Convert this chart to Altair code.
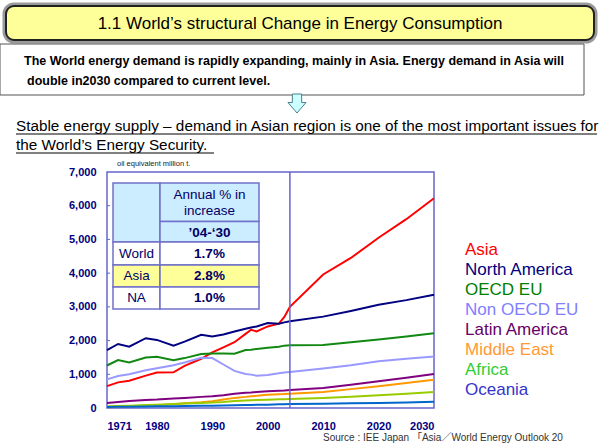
import altair as alt
import pandas as pd

# ---------------- data ----------------
years = [1971, 1973, 1975, 1978, 1980, 1983, 1985, 1988, 1990, 1992, 1994, 1996, 1997,
         1998, 2000, 2002, 2003, 2004, 2010, 2015, 2020, 2025, 2030]
asia = [650, 760, 810, 960, 1050, 1060, 1250, 1460, 1650, 1800, 1950, 2200, 2320,
        2270, 2420, 2500, 2700, 3000, 3960, 4450, 5050, 5600, 6220]
north_america = [1720, 1900, 1820, 2070, 2020, 1850, 1970, 2170, 2120, 2180, 2270, 2350, 2390,
                 2420, 2520, 2500, 2540, 2570, 2710, 2880, 3060, 3200, 3360]
oecd_eu = [1260, 1420, 1350, 1500, 1520, 1420, 1480, 1600, 1620, 1620, 1610, 1720, 1730,
           1750, 1790, 1820, 1850, 1860, 1870, 1950, 2030, 2120, 2220]
non_oecd_eu = [850, 950, 1000, 1120, 1180, 1270, 1350, 1490, 1480, 1290, 1100, 1010, 990,
               960, 980, 1030, 1050, 1070, 1170, 1270, 1390, 1460, 1530]
latin_america = [150, 180, 210, 240, 250, 280, 300, 330, 350, 380, 425, 450, 460,
                 475, 495, 510, 520, 535, 595, 690, 790, 900, 1010]
middle_east = [20, 40, 55, 70, 80, 110, 140, 170, 200, 250, 300, 330, 350,
               360, 395, 410, 415, 425, 475, 560, 645, 740, 840]
africa = [50, 60, 70, 90, 100, 115, 130, 150, 160, 180, 210, 225, 230,
          235, 247, 258, 262, 267, 297, 335, 376, 425, 475]
oceania = [30, 35, 40, 45, 50, 55, 60, 65, 70, 75, 82, 88, 90,
           95, 100, 108, 112, 118, 128, 138, 148, 165, 188]

regions = ["Asia", "North America", "OECD EU", "Non OECD EU",
           "Latin America", "Middle East", "Africa", "Oceania"]
line_colors = ["#FF0000", "#000080", "#118811", "#9999FF",
               "#800080", "#FF9900", "#99CC00", "#0066CC"]
legend_colors = ["#FF0000", "#000080", "#008000", "#8080FF",
                 "#660066", "#FF9933", "#33CC33", "#3333CC"]

x_ticks = [1971, 1980, 1990, 2000, 2010, 2020, 2030]
y_ticks = [0, 1000, 2000, 3000, 4000, 5000, 6000, 7000]
proj_start = 2004

table_rows = ["World", "Asia", "NA"]
table_vals = ["1.7%", "2.8%", "1.0%"]

title_text = "1.1 World\u2019s structural Change in Energy Consumption"
box_lines = ["The World energy demand is rapidly expanding, mainly in Asia. Energy demand in Asia will",
             "double in2030 compared to current level."]
stable_lines = ["Stable energy supply \u2013 demand in Asian region is one of the most important issues for",
                "the  World\u2019s Energy Security."]
unit_text = "oil equivalent million t."
source_text = "Source : IEE Japan \u300cAsia\uff0fWorld Energy Outlook 20"

FONT = "Liberation Sans, Arial, Noto Sans CJK JP"

series = {"Asia": asia, "North America": north_america, "OECD EU": oecd_eu,
          "Non OECD EU": non_oecd_eu, "Latin America": latin_america,
          "Middle East": middle_east, "Africa": africa, "Oceania": oceania}
rows = []
for r in regions:
    for y, v in zip(years, series[r]):
        rows.append({"year": y, "value": v, "region": r})
df = pd.DataFrame(rows)

# plot origin in page pixels
OX, OY = 107, 172
W, H = 327, 236

def px(x):
    return x - OX

def py(y):
    return y - OY

one = pd.DataFrame({"a": [0]})

xscale = alt.Scale(domain=[1971, 2030], nice=False, zero=False)
yscale = alt.Scale(domain=[0, 7000], nice=False)

lines = alt.Chart(df).mark_line(strokeWidth=2).encode(
    x=alt.X("year:Q", scale=xscale,
            axis=alt.Axis(values=x_ticks, format="d", title=None, grid=False, ticks=False,
                          domain=False, labelFontSize=11, labelFontWeight="bold",
                          labelColor="#000080", labelPadding=12, labelFont=FONT)),
    y=alt.Y("value:Q", scale=yscale,
            axis=alt.Axis(values=y_ticks, format=",d", title=None, grid=False, ticks=False,
                          domain=False, labelFontSize=11, labelFontWeight="bold",
                          labelColor="#000080", labelPadding=11, labelFont=FONT)),
    color=alt.Color("region:N", scale=alt.Scale(domain=regions, range=line_colors), legend=None),
    order=alt.Order("year:Q"),
)

tick_df = pd.DataFrame({"value": y_ticks[1:-1]})
yticks = alt.Chart(tick_df).mark_rule(color="#6666CC", strokeWidth=1).encode(
    y=alt.Y("value:Q", scale=yscale, axis=None), x=alt.value(0), x2=alt.value(3))

vline = alt.Chart(pd.DataFrame({"year": [proj_start]})).mark_rule(
    color="#6666CC", strokeWidth=1.5).encode(x=alt.X("year:Q", scale=xscale, axis=None))

# ---------- table ----------
tx = [px(113), px(160), px(259)]
ty = [py(183), py(221.5), py(242), py(265), py(287), py(309)]
cells = []
cells.append({"px": tx[0], "px2": tx[1], "py": ty[0], "py2": ty[2], "fill": "#CCECFF"})
cells.append({"px": tx[1], "px2": tx[2], "py": ty[0], "py2": ty[1], "fill": "#CCECFF"})
cells.append({"px": tx[1], "px2": tx[2], "py": ty[1], "py2": ty[2], "fill": "#CCECFF"})
for i, name in enumerate(table_rows):
    f = "#FFFF99" if name == "Asia" else "#FFFFFF"
    cells.append({"px": tx[0], "px2": tx[1], "py": ty[2 + i], "py2": ty[3 + i], "fill": f})
    cells.append({"px": tx[1], "px2": tx[2], "py": ty[2 + i], "py2": ty[3 + i], "fill": f})
cell_df = pd.DataFrame(cells)
table_cells = alt.Chart(cell_df).mark_rect(stroke="#7070C8", strokeWidth=1.5).encode(
    x=alt.X("px:Q", scale=None, axis=None), x2="px2:Q",
    y=alt.Y("py:Q", scale=None, axis=None), y2="py2:Q",
    fill=alt.Fill("fill:N", scale=None))

ttexts = [
    {"t": "Annual % in", "px": (tx[1] + tx[2]) / 2, "py": py(195), "w": "normal"},
    {"t": "increase", "px": (tx[1] + tx[2]) / 2, "py": py(211), "w": "normal"},
    {"t": "\u201904-\u201830", "px": (tx[1] + tx[2]) / 2, "py": py(232.5), "w": "bold"},
]
for i, (name, val) in enumerate(zip(table_rows, table_vals)):
    cy = (ty[2 + i] + ty[3 + i]) / 2
    ttexts.append({"t": name, "px": (tx[0] + tx[1]) / 2, "py": cy, "w": "normal"})
    ttexts.append({"t": val, "px": (tx[1] + tx[2]) / 2, "py": cy, "w": "bold"})
tt_df = pd.DataFrame(ttexts)
table_text_n = alt.Chart(tt_df[tt_df.w == "normal"]).mark_text(
    font=FONT, fontSize=13.5, color="#000066", align="center", baseline="middle").encode(
    x=alt.X("px:Q", scale=None, axis=None), y=alt.Y("py:Q", scale=None, axis=None), text="t:N")
table_text_b = alt.Chart(tt_df[tt_df.w == "bold"]).mark_text(
    font=FONT, fontSize=13.5, fontWeight="bold", color="#000066", align="center",
    baseline="middle").encode(
    x=alt.X("px:Q", scale=None, axis=None), y=alt.Y("py:Q", scale=None, axis=None), text="t:N")

# ---------- legend ----------
leg_df = pd.DataFrame({"region": regions,
                       "py": [py(250 + 20 * i) for i in range(len(regions))]})
legend = alt.Chart(leg_df).mark_text(font=FONT, fontSize=17, align="left",
                                     baseline="middle").encode(
    x=alt.value(px(465)), y=alt.Y("py:Q", scale=None, axis=None), text="region:N",
    color=alt.Color("region:N", scale=alt.Scale(domain=regions, range=legend_colors), legend=None))

# ---------- slide decorations ----------
banner_shadow = alt.Chart(one).mark_rect(cornerRadius=9, fill="#FFFF99", stroke="#9A9A9A",
                                         strokeWidth=5).encode(
    x=alt.value(px(5)), x2=alt.value(px(595)), y=alt.value(py(5)), y2=alt.value(py(41)))
banner = alt.Chart(one).mark_rect(cornerRadius=8, fill="#FFFF99", stroke="#222222",
                                  strokeWidth=2).encode(
    x=alt.value(px(6)), x2=alt.value(px(594)), y=alt.value(py(6)), y2=alt.value(py(40)))
banner_text = alt.Chart(one).mark_text(text=title_text, font=FONT, fontSize=17, color="#000000",
                                       align="center", baseline="middle").encode(
    x=alt.value(px(300)), y=alt.value(py(23.5)))

box = alt.Chart(one).mark_rect(fill="#FFFFFF", stroke="#555555", strokeWidth=1).encode(
    x=alt.value(px(0)), x2=alt.value(px(584)), y=alt.value(py(44)), y2=alt.value(py(95)))
box_df = pd.DataFrame({"t": box_lines, "px": [px(24), px(27)], "py": [py(61), py(81)]})
box_text = alt.Chart(box_df).mark_text(font=FONT, fontSize=12.5, fontWeight="bold",
                                       color="#000000", align="left", baseline="middle").encode(
    x=alt.X("px:Q", scale=None, axis=None), y=alt.Y("py:Q", scale=None, axis=None), text="t:N")

arrow_path = "M -0.49 -1 L 0.49 -1 L 0.49 -0.1 L 0.95 -0.1 L 0 1 L -0.95 -0.1 L -0.49 -0.1 Z"
arrow = alt.Chart(one).mark_point(shape=arrow_path, size=361, filled=True, fill="#CCFFFF",
                                  stroke="#4A7F8F", strokeWidth=1, opacity=1).encode(
    x=alt.value(px(297)), y=alt.value(py(103.5)))

st_df = pd.DataFrame({"t": stable_lines, "px": [px(16), px(16)], "py": [py(126), py(145)]})
stable_text = alt.Chart(st_df).mark_text(font=FONT, fontSize=15.3, color="#000000",
                                         align="left", baseline="middle").encode(
    x=alt.X("px:Q", scale=None, axis=None), y=alt.Y("py:Q", scale=None, axis=None), text="t:N")
ul_df = pd.DataFrame({"px": [px(16), px(16)], "px2": [px(597), px(214)],
                      "py": [py(134), py(153)]})
underline = alt.Chart(ul_df).mark_rule(color="#000000", strokeWidth=1).encode(
    x=alt.X("px:Q", scale=None, axis=None), x2="px2:Q", y=alt.Y("py:Q", scale=None, axis=None))

unit = alt.Chart(one).mark_text(text=unit_text, font=FONT, fontSize=7.5, color="#222222",
                                align="left", baseline="middle").encode(
    x=alt.value(px(117)), y=alt.value(py(164)))
source = alt.Chart(one).mark_text(text=source_text, font=FONT, fontSize=10, color="#333333",
                                  align="left", baseline="middle").encode(
    x=alt.value(px(323)), y=alt.value(py(438)))

chart = alt.layer(
    banner_shadow, banner, banner_text, box, box_text, arrow, stable_text, underline, unit,
    lines, vline, yticks, table_cells, table_text_n, table_text_b, legend, source,
).resolve_scale(
    color="independent", x="independent", y="independent"
).resolve_axis(
    x="independent", y="independent"
).properties(
    width=W, height=H,
    autosize="none",
    padding={"left": OX, "top": OY, "right": 600 - OX - W, "bottom": 446 - OY - H},
    background="#FFFFFF",
).configure_view(stroke="#6666CC", strokeWidth=1.5)

chart.save("out.html", embed_options={"renderer": "svg", "actions": False})
